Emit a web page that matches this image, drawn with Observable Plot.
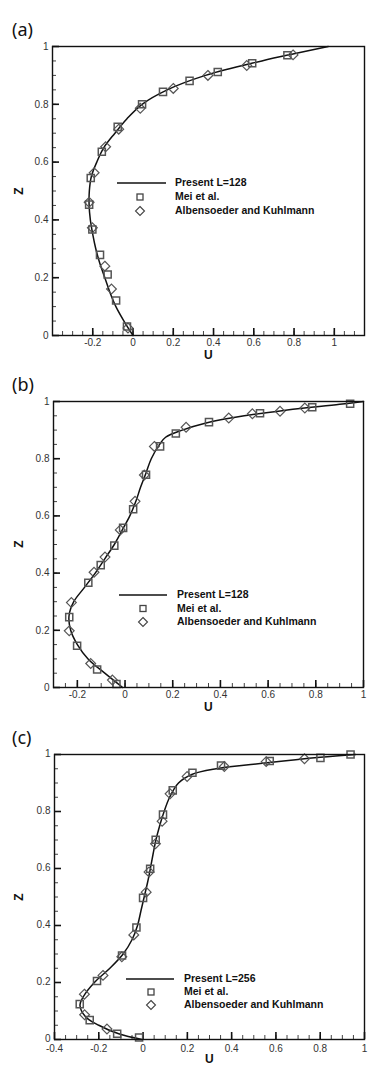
<!DOCTYPE html>
<html><head><meta charset="utf-8">
<script src="https://cdn.jsdelivr.net/npm/d3@7"></script>
<script src="https://cdn.jsdelivr.net/npm/@observablehq/plot@0.6"></script>
<style>
body{margin:0;background:#fff;}
#root{position:relative;width:383px;height:1075px;overflow:hidden;font-family:"Liberation Sans",Arial,sans-serif;}
.panel{position:absolute;left:0;}
.plabel{position:absolute;font-family:"Noto Sans",sans-serif;font-size:18px;color:#111;line-height:1;}
.axl{position:absolute;font-size:12px;font-weight:bold;color:#111;line-height:1;}
.leg{position:absolute;font-size:10.5px;font-weight:bold;color:#111;line-height:1;white-space:nowrap;}
svg.legsvg{position:absolute;left:0;top:0;overflow:visible;}
</style>
</head><body><div id="root"></div>
<script>
// ---------- data (U, Z) ----------
const panelNames = ["(a)", "(b)", "(c)"];
const legendLine = ["Present L=128", "Present L=128", "Present L=256"];
const legendMei = "Mei et al.";
const legendAK = "Albensoeder and Kuhlmann";

const xTicksA = [-0.2, 0, 0.2, 0.4, 0.6, 0.8, 1];
const xTicksB = [-0.2, 0, 0.2, 0.4, 0.6, 0.8, 1];
const xTicksC = [-0.4, -0.2, 0, 0.2, 0.4, 0.6, 0.8, 1];
const yTicks = [0, 0.2, 0.4, 0.6, 0.8, 1];

const lineA = [[0,0],[-0.045,0.05],[-0.085,0.1],[-0.115,0.15],[-0.14,0.2],[-0.165,0.25],[-0.185,0.3],[-0.2,0.35],[-0.212,0.4],[-0.218,0.45],[-0.217,0.5],[-0.207,0.55],[-0.18,0.6],[-0.145,0.65],[-0.09,0.7],[-0.03,0.75],[0.045,0.8],[0.17,0.85],[0.36,0.9],[0.64,0.95],[0.8,0.975],[0.97,1.0]];
const meiA = [[-0.030,0.031],[-0.084,0.121],[-0.126,0.211],[-0.164,0.279],[-0.202,0.367],[-0.218,0.453],[-0.210,0.545],[-0.155,0.636],[-0.076,0.722],[0.045,0.800],[0.149,0.843],[0.281,0.881],[0.421,0.912],[0.592,0.942],[0.767,0.970]];
const akA = [[-0.025,0.026],[-0.107,0.161],[-0.140,0.240],[-0.202,0.373],[-0.218,0.461],[-0.193,0.563],[-0.136,0.653],[-0.071,0.714],[0.036,0.786],[0.200,0.855],[0.372,0.900],[0.565,0.934],[0.795,0.971]];

const lineB = [[-0.01,0],[-0.085,0.05],[-0.155,0.1],[-0.2,0.15],[-0.228,0.2],[-0.235,0.25],[-0.215,0.3],[-0.17,0.35],[-0.125,0.4],[-0.085,0.45],[-0.045,0.5],[-0.012,0.55],[0.02,0.6],[0.045,0.65],[0.065,0.7],[0.088,0.75],[0.11,0.8],[0.145,0.85],[0.17,0.875],[0.24,0.9],[0.34,0.925],[0.5,0.95],[0.68,0.97],[0.9,0.99],[1.0,1.0]];
const meiB = [[-0.036,0.012],[-0.117,0.063],[-0.201,0.146],[-0.234,0.246],[-0.154,0.366],[-0.102,0.428],[-0.045,0.496],[-0.008,0.558],[0.034,0.623],[0.088,0.744],[0.147,0.843],[0.213,0.888],[0.352,0.928],[0.566,0.959],[0.785,0.980],[0.944,0.992]];
const akB = [[-0.053,0.026],[-0.144,0.084],[-0.234,0.198],[-0.225,0.297],[-0.130,0.403],[-0.084,0.456],[-0.020,0.551],[0.042,0.651],[0.081,0.743],[0.123,0.843],[0.256,0.910],[0.435,0.942],[0.534,0.957],[0.650,0.966],[0.754,0.977]];

const lineC = [[-0.005,0],[-0.11,0.02],[-0.2,0.05],[-0.26,0.08],[-0.285,0.12],[-0.27,0.15],[-0.22,0.2],[-0.15,0.25],[-0.09,0.3],[-0.05,0.35],[-0.025,0.4],[-0.01,0.45],[0.005,0.5],[0.02,0.55],[0.033,0.6],[0.045,0.65],[0.058,0.7],[0.075,0.75],[0.095,0.8],[0.12,0.85],[0.16,0.9],[0.22,0.93],[0.33,0.95],[0.55,0.97],[0.8,0.99],[0.96,1.0]];
const meiC = [[-0.018,0.007],[-0.117,0.020],[-0.241,0.068],[-0.286,0.124],[-0.208,0.205],[-0.095,0.295],[-0.030,0.393],[0.0,0.497],[0.032,0.599],[0.057,0.701],[0.090,0.789],[0.134,0.874],[0.223,0.936],[0.352,0.961],[0.572,0.977],[0.801,0.988],[0.937,1.0]];
const akC = [[-0.163,0.037],[-0.264,0.087],[-0.265,0.159],[-0.181,0.225],[-0.096,0.290],[-0.042,0.367],[0.014,0.517],[0.027,0.588],[0.056,0.687],[0.086,0.766],[0.122,0.862],[0.199,0.923],[0.367,0.958],[0.556,0.975],[0.729,0.985]];

// ---------- layout ----------
const panels = [
  {top:0, height:360, mt:46, mb:25, ml:52, mr:19, xd:[-0.4,1.15], xt:xTicksA, line:lineA, mei:meiA, ak:akA, xpad:3,
   lab:[12,20], leg:{x1:117,x2:166,y:183,tx:175,sx:140,dy:14}},
  {top:360, height:355, mt:41, mb:28, ml:53, mr:20, xd:[-0.3,1], xt:xTicksB, line:lineB, mei:meiB, ak:akB, xpad:3,
   lab:[12,15], leg:{x1:119,x2:167,y:235,tx:177,sx:143,dy:13.5}},
  {top:715, height:360, mt:39, mb:36, ml:54, mr:19, xd:[-0.4,1], xt:xTicksC, line:lineC, mei:meiC, ak:akC, xpad:5.5,
   lab:[12,13], leg:{x1:126,x2:174,y:264,tx:184,sx:151,dy:13}}
];

const diamondSym = {draw(ctx, size){ const r = Math.sqrt(size/2); ctx.moveTo(0,-r); ctx.lineTo(r,0); ctx.lineTo(0,r); ctx.lineTo(-r,0); ctx.closePath(); }};
const fmt = d => String(d);
const root = document.getElementById("root");

function range(a, b, s){ const out=[]; for(let i=Math.ceil(a/s - 1e-9); i*s<=b+1e-9; i++) out.push(+(i*s).toFixed(2)); return out; }

panels.forEach((p, i) => {
  const minorX = range(p.xd[0], p.xd[1], 0.05).filter(v => v > p.xd[0] + 1e-9 && v < p.xd[1] - 1e-9);
  const minorY = range(0, 1, 0.05).filter(v => v > 0 && v < 1);
  const x0 = p.xd[0];
  const chart = Plot.plot({
    width: 383, height: p.height,
    marginTop: p.mt, marginBottom: p.mb, marginLeft: p.ml, marginRight: p.mr,
    style: {fontFamily: '"Liberation Sans", Arial, sans-serif', fontSize: "10px", color: "#333", background: "#fff"},
    x: {domain: p.xd},
    y: {domain: [0, 1]},
    marks: [
      Plot.axisX(p.xt, {tickSize: 0, tickPadding: p.xpad, tickFormat: fmt, label: null, fill: "#333"}),
      Plot.axisY(yTicks, {tickSize: 0, tickPadding: 4, tickFormat: fmt, label: null, fill: "#333", dy: i === 2 ? -1 : 0}),
      // inward ticks (Tecplot style)
      Plot.ruleX(minorX, {x: d => d, y1: 0, y2: 0, insetBottom: 4, stroke: "#444", strokeWidth: 1}),
      Plot.ruleX(p.xt, {x: d => d, y1: 0, y2: 0, insetBottom: 7, stroke: "#111", strokeWidth: 1.6}),
      Plot.ruleY(minorY, {y: d => d, x1: x0, x2: x0, insetLeft: 4, stroke: "#444", strokeWidth: 1}),
      Plot.ruleY(yTicks, {y: d => d, x1: x0, x2: x0, insetLeft: 7, stroke: "#111", strokeWidth: 1.6}),
      Plot.line(p.line, {x: d => d[0], y: d => d[1], stroke: "#111", strokeWidth: 1.5, curve: "catmull-rom"}),
      Plot.dot(p.mei, {x: d => d[0], y: d => d[1], symbol: "square", r: 4, stroke: "#555", strokeWidth: 1.5, fill: "none"}),
      Plot.dot(p.ak, {x: d => d[0], y: d => d[1], symbol: diamondSym, r: 3.9, stroke: "#555", strokeWidth: 1.2, fill: "none"}),
      Plot.frame({stroke: "#111", strokeWidth: 1.4})
    ]
  });

  const wrap = document.createElement("div");
  wrap.className = "panel";
  wrap.style.top = p.top + "px";
  wrap.style.width = "383px";
  wrap.style.height = p.height + "px";
  wrap.appendChild(chart);

  // panel label
  const pl = document.createElement("div");
  pl.className = "plabel"; pl.textContent = panelNames[i];
  pl.style.left = p.lab[0] + "px"; pl.style.top = p.lab[1] + "px";
  wrap.appendChild(pl);

  // axis titles
  const frameCx = p.ml + (383 - p.ml - p.mr) / 2;
  const frameCy = p.mt + (p.height - p.mt - p.mb) / 2;
  const u = document.createElement("div");
  u.className = "axl"; u.textContent = "U";
  u.style.left = (frameCx - 4) + "px"; u.style.top = (p.height - p.mb + 14) + "px";
  wrap.appendChild(u);
  const z = document.createElement("div");
  z.className = "axl"; z.textContent = "Z";
  z.style.left = "15px"; z.style.top = (frameCy - 6) + "px";
  z.style.transform = "rotate(-90deg)";
  wrap.appendChild(z);

  // legend
  const L = p.leg;
  const ns = "http://www.w3.org/2000/svg";
  const svg = document.createElementNS(ns, "svg");
  svg.setAttribute("class", "legsvg");
  svg.setAttribute("width", 383); svg.setAttribute("height", p.height);
  svg.innerHTML =
    `<line x1="${L.x1}" x2="${L.x2}" y1="${L.y}" y2="${L.y}" stroke="#111" stroke-width="1.5"/>` +
    `<rect x="${L.sx-3}" y="${L.y+L.dy-3}" width="6" height="6" fill="none" stroke="#444" stroke-width="1.3"/>` +
    `<path d="M${L.sx},${L.y+2*L.dy-4.5}L${L.sx+4.5},${L.y+2*L.dy}L${L.sx},${L.y+2*L.dy+4.5}L${L.sx-4.5},${L.y+2*L.dy}Z" fill="none" stroke="#444" stroke-width="1.1"/>`;
  wrap.appendChild(svg);
  [legendLine[i], legendMei, legendAK].forEach((t, k) => {
    const d = document.createElement("div");
    d.className = "leg"; d.textContent = t;
    d.style.left = L.tx + "px"; d.style.top = (L.y + k * L.dy - 6) + "px";
    wrap.appendChild(d);
  });
  root.appendChild(wrap);
});
</script>
</body></html>
